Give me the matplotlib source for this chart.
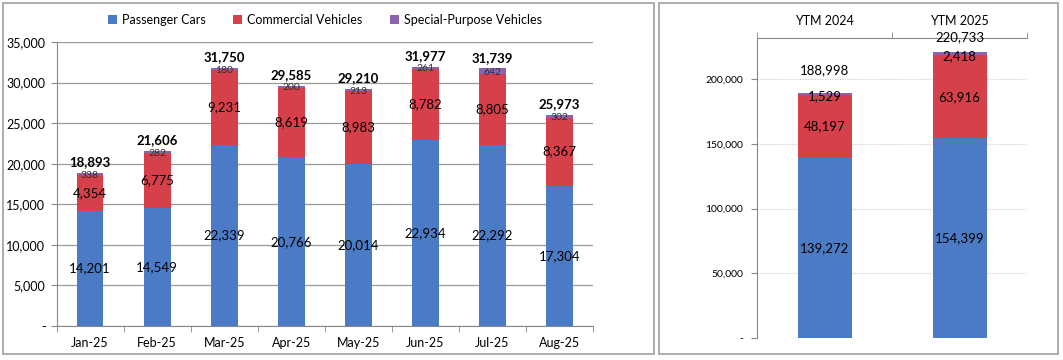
import matplotlib.pyplot as plt
from matplotlib.patches import Rectangle
from matplotlib.ticker import FuncFormatter
import numpy as np

# monthly data
months = ["Jan-25", "Feb-25", "Mar-25", "Apr-25", "May-25", "Jun-25", "Jul-25", "Aug-25"]
passenger = [14201, 14549, 22339, 20766, 20014, 22934, 22292, 17304]
commercial = [4354, 6775, 9231, 8619, 8983, 8782, 8805, 8367]
special = [338, 282, 180, 200, 213, 261, 642, 302]
month_totals = [18893, 21606, 31750, 29585, 29210, 31977, 31739, 25973]

# year-to-month data
ytm_labels = ["YTM 2024", "YTM 2025"]
ytm_passenger = [139272, 154399]
ytm_commercial = [48197, 63916]
ytm_special = [1529, 2418]
ytm_totals = [188998, 220733]

BLUE = "#4a7bc4"
RED = "#d6404a"
PURPLE = "#8b64b0"
series_names = ["Passenger Cars", "Commercial Vehicles", "Special-Purpose Vehicles"]

plt.rcParams['font.family'] = ['Lato', 'DejaVu Sans']

fig = plt.figure(figsize=(10.63, 3.6), dpi=100)

# panel frames
W, H = 1063, 360
for (x0, y0, x1, y1) in [(3, 3, 654, 354), (659, 3, 1058, 354)]:
    fig.patches.append(Rectangle((x0 / W, 1 - y1 / H), (x1 - x0) / W, (y1 - y0) / H,
                                 transform=fig.transFigure, fill=False,
                                 edgecolor="#a0a0a0", linewidth=1.2))


def fmt(v, pos=None):
    return "-" if v == 0 else f"{int(v):,}"


# ---- left chart ----
ax = fig.add_axes([56.5 / W, 1 - 326 / H, 536.5 / W, 284 / H])
x = np.arange(len(months))
bw = 0.4
ax.bar(x, passenger, bw, color=BLUE, label=series_names[0], zorder=3)
ax.bar(x, commercial, bw, bottom=passenger, color=RED, label=series_names[1], zorder=3)
bot2 = np.array(passenger) + np.array(commercial)
ax.bar(x, special, bw, bottom=bot2, color=PURPLE, label=series_names[2], zorder=3)

for i in range(len(months)):
    ax.text(x[i], passenger[i] / 2, f"{passenger[i]:,}", ha="center", va="center", fontsize=9.5, zorder=4)
    ax.text(x[i], passenger[i] + commercial[i] / 2, f"{commercial[i]:,}", ha="center", va="center",
            fontsize=9.5, zorder=4)
    ax.text(x[i], bot2[i] + special[i] / 2 - 150, f"{special[i]:,}", ha="center", va="center",
            fontsize=7.5, color="#303030", zorder=4)
    ax.text(x[i], month_totals[i] + 600, f"{month_totals[i]:,}", ha="center", va="bottom",
            fontsize=9.5, fontweight="bold", zorder=4)

ax.set_xlim(-0.5, len(months) - 0.5)
ax.set_ylim(0, 35000)
ax.set_yticks(np.arange(0, 35001, 5000))
ax.yaxis.set_major_formatter(FuncFormatter(fmt))
ax.set_xticks(x)
ax.set_xticklabels(months)
ax.set_xticks(np.arange(-0.5, len(months)), minor=True)
ax.tick_params(axis="x", which="major", length=0, labelsize=9, pad=8)
ax.tick_params(axis="x", which="minor", length=4, color="#888888")
ax.tick_params(axis="y", length=4, color="#888888", labelsize=9, pad=4)
ax.grid(axis="y", color="#9a9a9a", linewidth=0.9, zorder=0)
for s in ["top", "right"]:
    ax.spines[s].set_visible(False)
ax.spines["left"].set_color("#888888")
ax.spines["bottom"].set_color("#888888")

handles, labels = ax.get_legend_handles_labels()
fig.legend(handles, labels, loc="center", bbox_to_anchor=(325 / W, 1 - 20 / H), ncol=3,
           frameon=False, fontsize=9, handlelength=0.7, handleheight=0.7, columnspacing=2.2,
           handletextpad=0.4)

# ---- right chart ----
YMAX = 231700
ax2 = fig.add_axes([757 / W, 1 - 338 / H, 270 / W, 300 / H])
x2 = np.arange(len(ytm_labels))
ax2.bar(x2, ytm_passenger, bw, color=BLUE, zorder=3)
ax2.bar(x2, ytm_commercial, bw, bottom=ytm_passenger, color=RED, zorder=3)
ybot2 = np.array(ytm_passenger) + np.array(ytm_commercial)
ax2.bar(x2, ytm_special, bw, bottom=ybot2, color=PURPLE, zorder=3)

for i in range(len(ytm_labels)):
    ax2.text(x2[i], ytm_passenger[i] / 2, f"{ytm_passenger[i]:,}", ha="center", va="center", fontsize=9.5, zorder=4)
    ax2.text(x2[i], ytm_passenger[i] + ytm_commercial[i] / 2, f"{ytm_commercial[i]:,}", ha="center",
             va="center", fontsize=9.5, zorder=4)
    ax2.text(x2[i], ybot2[i] + ytm_special[i] / 2 - 1500, f"{ytm_special[i]:,}", ha="center", va="center",
             fontsize=9.5, zorder=4)
    # totals sit above the bar, but no higher than just under the top axis
    ty = min(ytm_totals[i] + 18000, YMAX + 1000)
    ax2.text(x2[i], ty, f"{ytm_totals[i]:,}", ha="center", va="center", fontsize=9.5, zorder=4)

ax2.set_xlim(-0.5, len(ytm_labels) - 0.5)
ax2.set_ylim(0, YMAX)
ax2.set_yticks(np.arange(0, 200001, 50000))
ax2.yaxis.set_major_formatter(FuncFormatter(fmt))
ax2.xaxis.tick_top()
ax2.set_xticks(x2)
ax2.set_xticklabels(ytm_labels)
ax2.set_xticks(np.arange(-0.5, len(ytm_labels)), minor=True)
ax2.tick_params(axis="x", which="major", length=0, labelsize=9, pad=8)
ax2.tick_params(axis="x", which="minor", length=4, color="#888888", top=True, bottom=False)
ax2.tick_params(axis="y", length=4, color="#888888", labelsize=7.5, pad=6)
ax2.grid(axis="y", color="#d0d0d0", linewidth=0.9, linestyle=(0, (1, 1)), zorder=0)
ax2.spines["right"].set_visible(False)
ax2.spines["bottom"].set_visible(False)
ax2.spines["left"].set_color("#888888")
ax2.spines["top"].set_color("#888888")

fig.savefig("out.png", dpi=100)
